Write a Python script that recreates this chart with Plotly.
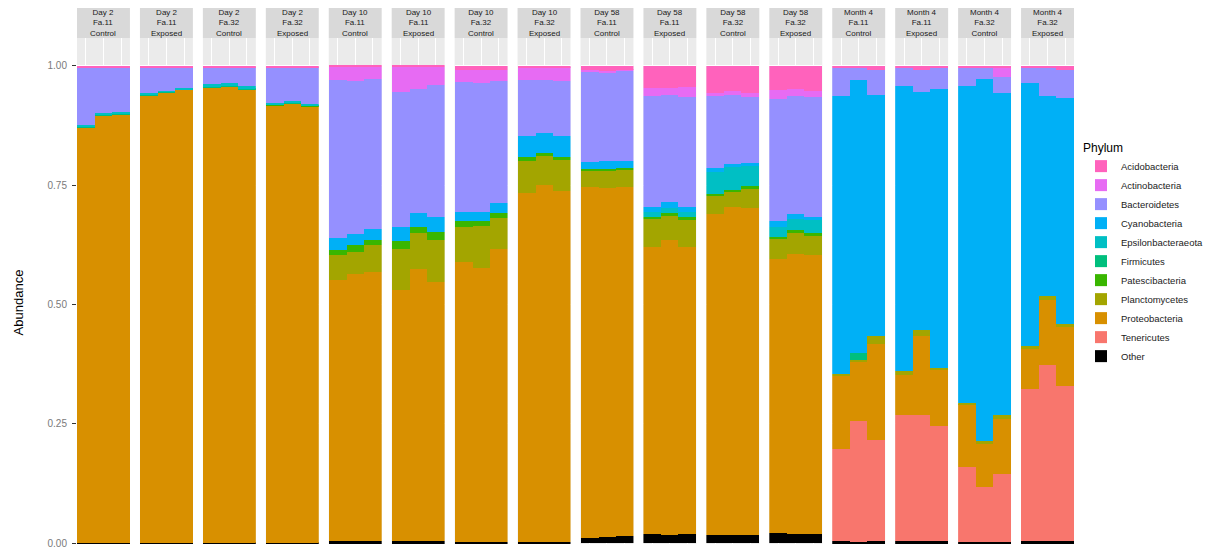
import plotly.graph_objects as go
from plotly.subplots import make_subplots

# ---- panel facets ----
days = ["Day 2"] * 4 + ["Day 10"] * 4 + ["Day 58"] * 4 + ["Month 4"] * 4
sites = ["Fa.11", "Fa.11", "Fa.32", "Fa.32"] * 4
treatments = ["Control", "Exposed"] * 8
replicates = [1, 2, 3]

# ---- phylum abundances: 16 panels x 3 replicates (panel-major) ----
other = [.001, .001, .001, .001, .001, .001, .001, .001, .001, .001, .001, .001,
         .004, .004, .004, .004, .004, .004, .003, .003, .003, .003, .003, .003,
         .011, .013, .015, .018, .017, .019, .016, .016, .016, .022, .019, .020,
         .004, .002, .004, .004, .004, .004, .002, .002, .002, .004, .004, .004]
tenericutes = [0] * 36 + [.192, .254, .212, .264, .264, .241,
                          .158, .116, .142, .318, .368, .325]
proteobacteria = [.870, .895, .897, .937, .943, .949, .954, .956, .950, .916, .919, .914,
                  .547, .559, .564, .526, .570, .543, .585, .573, .614, .730, .747, .735,
                  .734, .730, .731, .603, .617, .602, .674, .689, .686, .574, .586, .583,
                  .154, .125, .201, .085, .165, .118, .131, .089, .115, .084, .138, .123]
planctomycetes = [0] * 12 + [.052, .047, .056, .087, .075, .088, .075, .088, .064, .068, .061, .064,
                             .035, .037, .036, .057, .051, .055, .036, .031, .040, .040, .044, .041,
                             .004, .003, .016, .007, .014, .004, .003, .007, .009, .007, .007, .007]
patescibacteria = [0] * 9 + [.001, .001, .001,
                             .010, .014, .011, .015, .014, .016, .011, .010, .010, .008, .006, .007,
                             .003, .003, .003, .005, .007, .007, .005, .004, .005, .006, .006, .006] + [0] * 12
firmicutes = [.001] * 12 + [0] * 24 + [0, .014, 0] + [0] * 9
epsilonbacteraeota = [.003, .003, .003, .003, .003, .003, .005, .005, .005, .003, .003, .003] + [0] * 15 + \
                     [.010, .010, .010, .046, .047, .042, .021, .023, .026] + [0] * 12
cyanobacteria = [0] * 12 + [.026, .024, .023, .030, .029, .032, .019, .019, .022, .044, .043, .044,
                            .016, .018, .016, .012, .012, .012, .008, .008, .008, .011, .012, .008,
                            .582, .571, .505, .597, .498, .584, .663, .758, .675, .551, .419, .474]
bacteroidetes = [.122, .097, .095, .055, .049, .043, .036, .034, .040, .075, .072, .077,
                 .332, .319, .314, .283, .259, .276, .272, .270, .254, .118, .111, .114,
                 .188, .184, .188, .231, .224, .229, .151, .143, .138, .257, .246, .251,
                 .059, .027, .054, .038, .047, .044, .038, .023, .033, .031, .059, .059]
actinobacteria = [0] * 12 + [.027, .031, .026, .053, .047, .039, .026, .028, .024, .026, .026, .030,
                             .003, .003, .003, .017, .015, .021, .007, .009, .008, .018, .016, .013,
                             0, 0, 0, 0, 0, 0, 0, 0, .019, 0, 0, 0]
acidobacteria = [.003] * 12 + [.002, .002, .002, .002, .002, .002, .009, .009, .009, .003, .003, .003,
                               .010, .012, .008, .047, .047, .045, .057, .053, .057, .051, .048, .052,
                               .005, .004, .008, .005, .008, .005, .005, .005, .005, .005, .005, .008]

# stacking order, bottom -> top
phyla = ["Other", "Tenericutes", "Proteobacteria", "Planctomycetes", "Patescibacteria",
         "Firmicutes", "Epsilonbacteraeota", "Cyanobacteria", "Bacteroidetes",
         "Actinobacteria", "Acidobacteria"]
values = [other, tenericutes, proteobacteria, planctomycetes, patescibacteria,
          firmicutes, epsilonbacteraeota, cyanobacteria, bacteroidetes,
          actinobacteria, acidobacteria]
colors = ["#000000", "#F8766D", "#D89000", "#A3A500", "#39B600", "#00BF7D",
          "#00BFC4", "#00B0F6", "#9590FF", "#E76BF3", "#FF62BC"]

# the page body adds an 8px offset, so the figure is sized to fit the window
OFF = 8
W, H = 1216 - OFF, 553 - OFF
ML, MR, MT, MB = 77 - OFF, 142, 38 - OFF, 4
PW = W - ML - MR
PH = H - MT - MB
n_panels = len(days)

fig = make_subplots(rows=1, cols=n_panels, shared_yaxes=True,
                    horizontal_spacing=10 / PW)

for p in range(n_panels):
    for name, vals, col in zip(phyla, values, colors):
        fig.add_trace(go.Bar(
            x=replicates, y=vals[3 * p:3 * p + 3], name=name,
            marker=dict(color=col, line=dict(width=0)),
            width=1.0, legendgroup=name, showlegend=(p == 0),
            hovertemplate=name + ": %{y:.3f}<extra></extra>"),
            row=1, col=p + 1)

fig.update_layout(barmode="stack", bargap=0)

for p in range(n_panels):
    fig.update_xaxes(row=1, col=p + 1, range=[0.5, 3.5], tickvals=replicates,
                     showticklabels=False, showgrid=True, gridcolor="white",
                     gridwidth=1, zeroline=False, showline=False, ticks="",
                     fixedrange=True)
fig.update_yaxes(range=[-0.002, 1.058], tickvals=[0, 0.25, 0.5, 0.75, 1.0],
                 showgrid=True, gridcolor="white", gridwidth=1, zeroline=False,
                 showline=False)
fig.update_yaxes(row=1, col=1, ticktext=["0.00", "0.25", "0.50", "0.75", "1.00"],
                 ticks="outside", ticklen=4, tickcolor="#333333", tickwidth=1,
                 tickfont=dict(size=10, color="#7a7a7a", family="Liberation Sans"),
                 ticklabelstandoff=3, ticklabeloverflow="allow")

# facet strips
strip_top = 1 + 31.3 / PH
for p in range(n_panels):
    xd = "x domain" if p == 0 else f"x{p + 1} domain"
    fig.add_shape(type="rect", xref=xd, yref="paper", x0=0, x1=1, y0=1.0, y1=strip_top,
                  fillcolor="#D9D9D9", line=dict(width=0), layer="below")
    fig.add_annotation(xref=xd, yref="paper", x=0.5, y=(1 + strip_top) / 2,
                       text=f"{days[p]}<br>{sites[p]}<br>{treatments[p]}",
                       showarrow=False, xanchor="center", yanchor="middle",
                       font=dict(size=8, color="#1A1A1A", family="Liberation Sans"))

# y title
fig.add_annotation(xref="paper", yref="paper", x=(18 - 77) / PW, y=1 - (305 - 38) / PH,
                   text="Abundance", textangle=-90, showarrow=False,
                   xanchor="center", yanchor="middle",
                   font=dict(size=13, color="#000000", family="Liberation Sans"))

fig.update_layout(
    width=W, height=H,
    margin=dict(l=ML, r=MR, t=MT, b=MB),
    paper_bgcolor="white", plot_bgcolor="#EBEBEB",
    font=dict(family="Liberation Sans"),
    legend=dict(traceorder="reversed", x=(1081 - 77) / PW, xanchor="left",
                y=1 - (137 - 38) / PH, yanchor="top",
                title=dict(text="Phylum", font=dict(size=12, color="#000000")),
                font=dict(size=9.5, color="#222222"),
                tracegroupgap=0, bgcolor="rgba(0,0,0,0)"),
)

fig.write_html("out.html")
